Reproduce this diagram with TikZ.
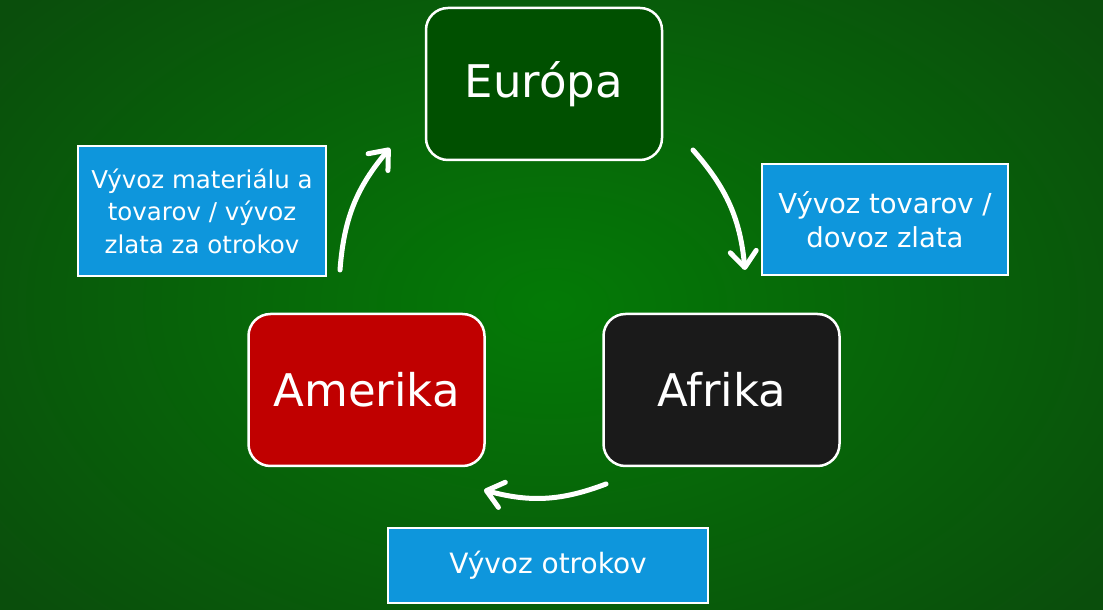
\documentclass[tikz,border=0pt]{standalone}
\usepackage{fontspec}
\setmainfont{DejaVu Sans}
\usetikzlibrary{arrows.meta}
\definecolor{bgin}{RGB}{4,122,6}
\definecolor{bgout}{RGB}{10,78,12}
\definecolor{eurfill}{RGB}{0,80,0}
\definecolor{amfill}{RGB}{192,0,0}
\definecolor{affill}{RGB}{26,26,26}
\definecolor{lblfill}{RGB}{14,150,220}
\tikzset{
  region/.style={rectangle, rounded corners=22pt, draw=white, line width=2.5pt,
    minimum width=236pt, minimum height=152pt, text=white,
    font=\fontsize{45}{50}\selectfont},
  lbl/.style={rectangle, draw=white, line width=2pt, fill=lblfill, text=white,
    align=center, inner sep=0pt},
  flow/.style={draw=white, line width=5pt, line cap=round,
    -{Straight Barb[length=16pt,width=26pt,line width=5pt,round]}}
}
\begin{document}
\begin{tikzpicture}[x=1pt,y=1pt]
\useasboundingbox (0,0) rectangle (1103,610);
\shade[inner color=bgin, outer color=bgout] (-150,-150) rectangle (1253,760);
\node[region, fill=eurfill] (eur) at (544,526) {Európa};
\node[region, fill=amfill] (am) at (366.5,220) {Amerika};
\node[region, fill=affill] (af) at (721.5,220) {Afrika};
\node[lbl, font=\fontsize{27.5}{34}\selectfont, minimum width=246pt, minimum height=111pt] (lr) at (885,390.5) {Vývoz tovarov /\\dovoz zlata};
\node[lbl, font=\fontsize{24.5}{32.5}\selectfont, minimum width=248pt, minimum height=130pt] (ll) at (202,399) {Vývoz materiálu a\\tovarov / vývoz\\zlata za otrokov};
\node[lbl, font=\fontsize{28}{34}\selectfont, minimum width=320pt, minimum height=75pt] (lb) at (548,44.5) {Vývoz otrokov};
\coordinate (a1s) at (693,460);
\coordinate (a1e) at (745,340);
\coordinate (a2s) at (606,126);
\coordinate (a2e) at (484,120);
\coordinate (a3s) at (340,340);
\coordinate (a3e) at (390,462);
\draw[flow] (a1s) to[bend left=18] (a1e);
\draw[flow] (a2s) to[bend left=18] (a2e);
\draw[flow] (a3s) to[bend left=18] (a3e);
\end{tikzpicture}
\end{document}
